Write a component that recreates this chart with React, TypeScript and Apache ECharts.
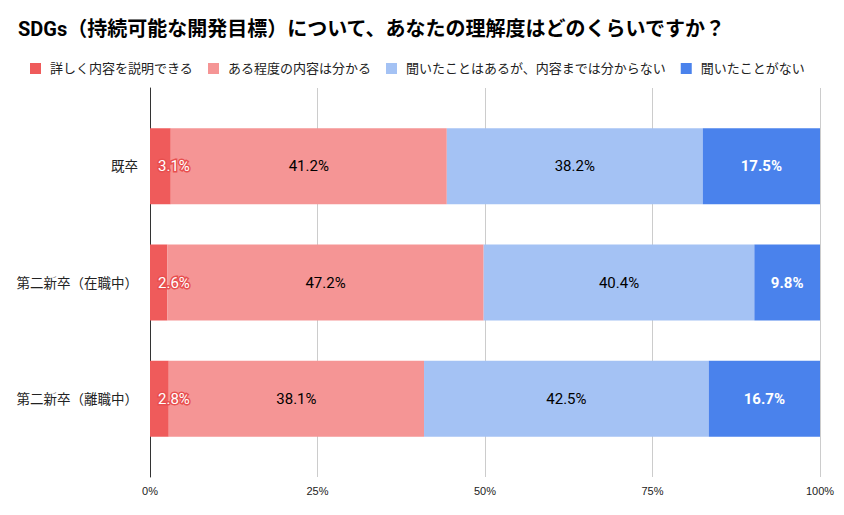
import React, { useEffect, useRef } from "react";
import * as echarts from "echarts";

const title = "SDGs（持続可能な開発目標）について、あなたの理解度はどのくらいですか？";
const categories = ["既卒", "第二新卒（在職中）", "第二新卒（離職中）"];
const seriesNames = [
  "詳しく内容を説明できる",
  "ある程度の内容は分かる",
  "聞いたことはあるが、内容までは分からない",
  "聞いたことがない",
];
const detailed = [3.1, 2.6, 2.8];
const somewhat = [41.2, 47.2, 38.1];
const heardOnly = [38.2, 40.4, 42.5];
const never = [17.5, 9.8, 16.7];
const xTicks = [0, 25, 50, 75, 100];
const colors = ["#ef5b5b", "#f59595", "#a4c2f4", "#4a82ec"];

const FONT = "Roboto, 'Noto Sans CJK JP', sans-serif";

export default function App() {
  const ref = useRef<HTMLDivElement>(null);
  useEffect(() => {
    if (!ref.current) return;
    const chart = echarts.init(ref.current, undefined, { renderer: "svg" });
    const values = [detailed, somewhat, heardOnly, never];
    const labelStyles: any[] = [
      {
        show: true,
        position: "insideLeft",
        distance: 8,
        color: "#fff",
        textBorderColor: "#e84f4f",
        textBorderWidth: 3,
        fontSize: 15,
      },
      { show: true, position: "inside", color: "#000", fontSize: 15 },
      { show: true, position: "inside", color: "#000", fontSize: 15 },
      { show: true, position: "inside", color: "#fff", fontSize: 15, fontWeight: "bold" },
    ];
    chart.setOption({
      animation: false,
      textStyle: { fontFamily: FONT },
      title: {
        text: title,
        left: 13,
        top: 14,
        textStyle: { fontSize: 20, fontWeight: "bold", color: "#000", fontFamily: FONT },
      },
      legend: {
        left: 25,
        top: 57,
        itemWidth: 11,
        itemHeight: 11,
        itemGap: 15,
        icon: "rect",
        textStyle: { fontSize: 13, color: "#222", fontFamily: FONT, padding: [0, 0, 0, 4] },
        data: seriesNames,
      },
      grid: [
        { left: 150, right: 24, top: 108, bottom: 58 },
        { left: 150, right: 24, top: 88, bottom: 38 },
      ],
      xAxis: [
        {
          gridIndex: 0,
          type: "value",
          min: 0,
          max: 100,
          show: false,
        },
        {
          gridIndex: 1,
          type: "value",
          min: 0,
          max: 100,
          interval: 25,
          axisLine: { show: false },
          axisTick: { show: false },
          splitLine: { show: true, lineStyle: { color: "#cccccc", width: 1 } },
          axisLabel: {
            formatter: (v: number) => (xTicks.includes(v) ? v + "%" : ""),
            fontSize: 11,
            color: "#222",
            margin: 8,
            fontFamily: "'Liberation Sans', Arial, sans-serif",
          },
        },
      ],
      yAxis: [
        {
          gridIndex: 0,
          type: "category",
          inverse: true,
          data: categories,
          axisLine: { show: false },
          axisTick: { show: false },
          axisLabel: { fontSize: 13.5, color: "#222", margin: 12 },
        },
        {
          gridIndex: 1,
          type: "value",
          min: 0,
          max: 1,
          axisLine: { show: true, lineStyle: { color: "#333", width: 1 } },
          axisTick: { show: false },
          axisLabel: { show: false },
          splitLine: { show: false },
        },
      ],
      series: values.map((arr, i) => ({
        name: seriesNames[i],
        type: "bar",
        stack: "total",
        xAxisIndex: 0,
        yAxisIndex: 0,
        barWidth: 76,
        itemStyle: { color: colors[i] },
        label: { ...labelStyles[i], formatter: (p: any) => p.value.toFixed(1) + "%" },
        data: arr,
        z: 3,
      })),
    });
    return () => chart.dispose();
  }, []);
  return <div ref={ref} style={{ width: 844, height: 515, position: "absolute", left: 0, top: 0 }} />;
}
